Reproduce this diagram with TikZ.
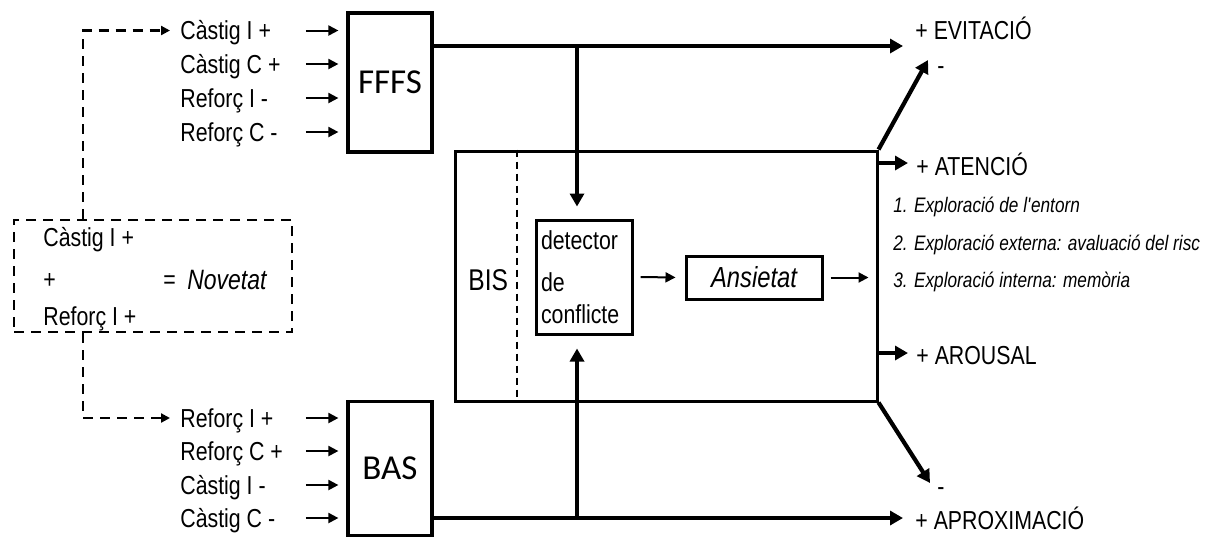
\documentclass[tikz,border=0pt]{standalone}
\usepackage{fontspec}
\setmainfont{Liberation Sans}[FakeStretch=0.82]
\newfontfamily\boxfont{Carlito}
\usetikzlibrary{arrows.meta}

\tikzset{
	sysbox/.style={draw,line width=1.6pt,minimum width=42pt,font=\boxfont\fontsize{17.5pt}{20pt}\selectfont},
	lbl/.style={anchor=west,inner sep=0pt,text height=9.3pt,text depth=0pt},
	inlbl/.style={lbl,text width=61.5pt,align=flush left},
	inarr/.style={-{Triangle[length=5pt,width=5pt]},line width=1pt},
	bigarr/.style={-{Triangle[length=6.5pt,width=7pt]},line width=2.1pt},
	dasharr/.style={-{Triangle[length=4.5pt,width=4.5pt]},line width=1.2pt,dash pattern=on 5pt off 3.5pt},
	listlbl/.style={lbl,text height=7.5pt,font=\itshape\fontsize{10.5pt}{12pt}\selectfont}
}

\begin{document}
\begin{tikzpicture}[x=0.5pt,y=-0.5pt,font=\fontsize{13pt}{16pt}\selectfont]
	\useasboundingbox (0,0) rectangle (1214,538);

	% FFFS
	\node[sysbox,minimum height=69.5pt] (fffs) at (390,82.5) {FFFS};
	\node[inlbl] (fc1) at (180,30.5) {Càstig I +};
	\node[inlbl] (fc2) at (180,64) {Càstig C +};
	\node[inlbl] (fc3) at (180,98) {Reforç I -};
	\node[inlbl] (fc4) at (180,132) {Reforç C -};
	\foreach \n in {fc1,fc2,fc3,fc4}
		\draw[inarr,shorten <=1pt,shorten >=4pt] (\n.east) -- (fffs.west |- \n);

	% BAS
	\node[sysbox,minimum height=67pt] (bas) at (390,468.5) {BAS};
	\node[inlbl] (bc1) at (180,418) {Reforç I +};
	\node[inlbl] (bc2) at (180,451) {Reforç C +};
	\node[inlbl] (bc3) at (180,485) {Càstig I -};
	\node[inlbl] (bc4) at (180,518) {Càstig C -};
	\foreach \n in {bc1,bc2,bc3,bc4}
		\draw[inarr,shorten <=1pt,shorten >=4pt] (\n.east) -- (bas.west |- \n);

	% novetat
	\node[draw,line width=1.2pt,dash pattern=on 5pt off 3.5pt,minimum width=139pt,minimum height=56pt] (nov) at (153,276) {};
	\node[lbl] (nc) at (43,237.5) {Càstig I +};
	\node[lbl] (np) at (43,279) {+};
	\node[lbl] (neq) at (163,279) {=};
	\node[lbl,text height=10pt,font=\itshape\fontsize{14pt}{17pt}\selectfont] (nnov) at (187,279) {Novetat};
	\node[lbl] (nr) at (43,316) {Reforç I +};
	\coordinate (dtop) at (83,30.5);
	\coordinate (dbot) at (83,418);
	\draw[dasharr,shorten >=5pt] (nov.north -| dtop) -- (dtop) -- (fc1.west);
	\draw[dasharr,shorten >=5pt] (nov.south -| dbot) -- (dbot) -- (bc1.west);

	% BIS
	\node[draw,line width=1.5pt,minimum width=211pt,minimum height=125pt] (bis) at (666,276) {};
	\coordinate (sep) at (517,276);
	\draw[line width=1.2pt,dash pattern=on 3.5pt off 2.5pt] (sep |- bis.north) -- (sep |- bis.south);
	\node[lbl,text height=10.7pt,font=\fontsize{15pt}{18pt}\selectfont] (bislbl) at (468,280) {BIS};
	\node[draw,line width=1.5pt,minimum width=48pt,minimum height=57pt,inner xsep=2.5pt,text width=43pt,align=flush left] (det) at (584,277) {detector\\[5pt]de\\conflicte};
	\node[draw,line width=1.5pt,minimum width=68pt,minimum height=21.5pt,font=\itshape\fontsize{14.5pt}{17pt}\selectfont] (ans) at (754,277.5) {Ansietat};
	\draw[inarr,shorten <=3.5pt,shorten >=4.5pt] (det.east) -- (ans.west);
	\draw[inarr,shorten <=3.5pt,shorten >=5pt] (ans.east) -- (bis.east |- ans);

	% outputs
	\coordinate (evitip) at (903,46);
	\coordinate (jtop) at (577,46);
	\coordinate (apxtip) at (903,518);
	\coordinate (jbot) at (577,518);
	\draw[bigarr] (fffs.east |- evitip) -- (evitip);
	\draw[bigarr,shorten >=6pt] (jtop) -- (jtop |- det.north);
	\draw[bigarr] (bas.east |- apxtip) -- (apxtip);
	\draw[bigarr,shorten >=6.5pt] (jbot) -- (jbot |- det.south);

	\coordinate (evidiag) at (928,60);
	\coordinate (apxdiag) at (930,483);
	\draw[bigarr] (bis.north east) -- (evidiag);
	\draw[bigarr] (bis.south east) -- (apxdiag);

	\coordinate (atetip) at (908,163);
	\coordinate (arotip) at (908,353);
	\draw[bigarr] (bis.east |- atetip) -- (atetip);
	\draw[bigarr] (bis.east |- arotip) -- (arotip);

	\node[lbl] (evi) at (915,30.5) {+ EVITACIÓ};
	\node[lbl] (evim) at (937,65) {-};
	\node[lbl] (ate) at (916,166) {+ ATENCIÓ};
	\node[listlbl] (ex1) at (893,205) {1. Exploració de l\textquotesingle entorn};
	\node[listlbl] (ex2) at (893,243) {2. Exploració externa: avaluació del risc};
	\node[listlbl] (ex3) at (893,280) {3. Exploració interna: memòria};
	\node[lbl] (aro) at (916,355) {+ AROUSAL};
	\node[lbl] (apxm) at (937,486) {-};
	\node[lbl] (apx) at (915,520) {+ APROXIMACIÓ};
\end{tikzpicture}
\end{document}
